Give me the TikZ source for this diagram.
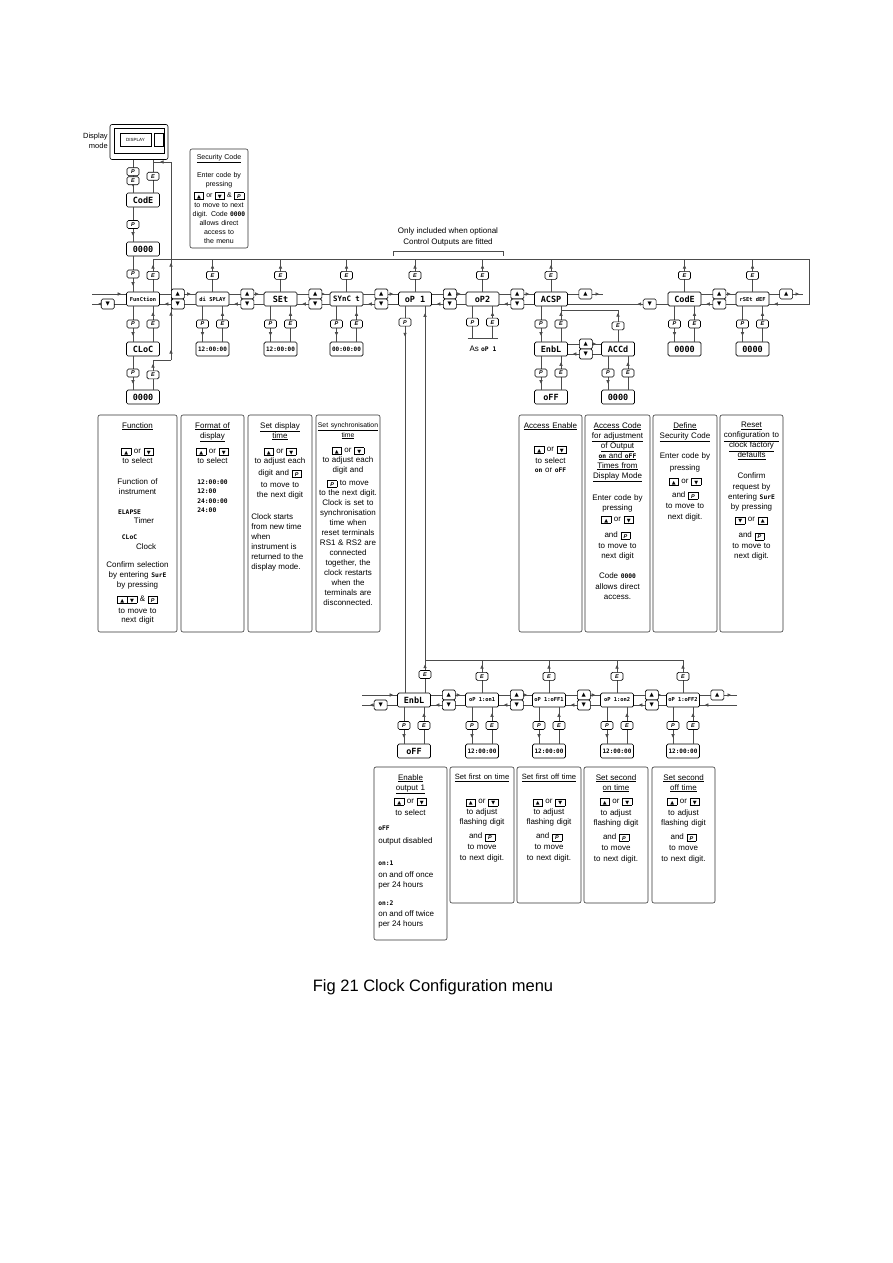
\documentclass[tikz,border=0pt]{standalone}
\usepackage{fontspec}
\setmainfont{Liberation Sans}
\newfontfamily\lcdfam{DejaVu Sans Mono}
\newfontfamily\symfam{DejaVu Sans}
\usetikzlibrary{arrows.meta, decorations.markings, calc}

\newcommand\lcdf{\lcdfam\bfseries\fontsize{6.3}{9.5}\selectfont}
\newcommand\ikey[1]{\raisebox{-1pt}{\setlength\fboxsep{0pt}\setlength\fboxrule{0.45pt}\fbox{\makebox[9pt]{\rule[-1pt]{0pt}{6.5pt}#1}}}}
\newcommand\ku{\ikey{\symfam\fontsize{5}{5}\selectfont ▲}}
\newcommand\kd{\ikey{\symfam\fontsize{5}{5}\selectfont ▼}}
\newcommand\kP{\ikey{\fontsize{5.5}{5.5}\selectfont\bfseries\itshape P}}

\begin{document}
\begin{tikzpicture}[x=1pt, y=-1pt, line width=0.6pt,
  lcd/.style={draw=black, line width=0.7pt, rounded corners=1.5pt, fill=white, minimum width=33pt, minimum height=14pt, inner sep=0pt, font=\lcdfam\bfseries\fontsize{8.5}{8.5}\selectfont},
  lcdm/.style={lcd, font=\lcdfam\bfseries\fontsize{7.4}{7.4}\selectfont},
  lcds/.style={lcd, font=\lcdfam\bfseries\fontsize{5.4}{5.4}\selectfont},
  lcdt/.style={lcd, font=\lcdfam\bfseries\fontsize{6}{6}\selectfont},
  key/.style={draw=black, rounded corners=1.5pt, fill=white, minimum width=12pt, minimum height=8pt, inner sep=0pt, font=\fontsize{5.5}{5.5}\selectfont\bfseries\itshape},
  upkey/.style={key, minimum width=13pt, minimum height=10pt, font=\symfam\fontsize{5.5}{5.5}\selectfont},
  wire/.style={draw=black!70},
  arr/.style={postaction={decorate, decoration={markings, mark=at position #1 with {\arrow{Triangle[length=3.5pt,width=3.2pt]}}}}},
  note/.style={draw=black!80, rounded corners=2pt},
  ntxt/.style={anchor=north, align=center, inner sep=0pt, font=\fontsize{8}{10}\selectfont}]

\fill[white] (0,0) rectangle (893,1263);
\useasboundingbox (0,0) rectangle (893,1263);

% display unit
\node[draw, rounded corners=2pt, minimum width=58pt, minimum height=35pt, inner sep=0pt] (disp) at (139,142) {};
\draw (114,128) rectangle (164,153);
\node[draw, minimum width=31pt, minimum height=13pt, inner sep=0pt, font=\fontsize{4.5}{4.5}\selectfont] (dlabel) at (135.5,139.5) {DISPLAY};
\node[draw, minimum width=9pt, minimum height=13pt, inner sep=0pt] (dsq) at (158.5,139.5) {};
\node[anchor=east, align=right, inner sep=0pt, font=\fontsize{7.5}{9.5}\selectfont] (dmode) at (108,141) {Display\\mode};

% function column
\coordinate (pc) at (133,0);
\coordinate (ec) at (153,0);
\node[lcd] (cod0) at (143,200) {CodE};
\node[lcd] (cod1) at (143,249) {0000};
\node[lcds] (fun) at (143,299) {FunCtion};
\node[lcd] (clk) at (143,349) {CLoC};
\node[lcd] (clk0) at (143,397) {0000};

% main row
\node[lcds] (dsp) at (212.5,299) {di SPLAY};
\node[lcd] (set) at (280.5,299) {SEt};
\node[lcdm] (syn) at (346.5,299) {SYnC t};
\node[lcd] (op1) at (415,299) {oP 1};
\node[lcd] (op2) at (482.5,299) {oP2};
\node[lcd] (acsp) at (551,299) {ACSP};
\node[lcd] (code) at (684.5,299) {CodE};
\node[lcds] (rset) at (752.5,299) {rSEt dEF};

% values below
\node[lcdt] (dsp-v) at (212.5,349) {12:00:00};
\node[lcdt] (set-v) at (280.5,349) {12:00:00};
\node[lcdt] (syn-v) at (346.5,349) {00:00:00};
\node[lcd] (en2) at (551,349) {EnbL};
\node[lcd] (off2) at (551,397) {oFF};
\node[lcd] (accd) at (618,349) {ACCd};
\node[lcd] (acc0) at (618,397) {0000};
\node[lcd] (code-v) at (684.5,349) {0000};
\node[lcd] (rset-v) at (752.5,349) {0000};

% output 1 row
\node[lcd] (en1) at (414,700) {EnbL};
\node[lcds] (on1) at (482,700) {oP 1:on1};
\node[lcds] (of1) at (549,700) {oP 1:oFF1};
\node[lcds] (on2) at (617,700) {oP 1:on2};
\node[lcds] (of2) at (683,700) {oP 1:oFF2};
\node[lcd] (en1-v) at (414,751) {oFF};
\node[lcdt] (on1-v) at (482,751) {12:00:00};
\node[lcdt] (of1-v) at (549,751) {12:00:00};
\node[lcdt] (on2-v) at (617,751) {12:00:00};
\node[lcdt] (of2-v) at (683,751) {12:00:00};

% entry from display mode
\draw[wire, arr=-6pt] (disp.south -| pc) -- node[key, yshift=4.5pt] (kp0) {P} node[key, yshift=-4.5pt] (ke0) {E} (cod0.north -| pc);
\draw[wire] (cod0.north -| ec) -- node[key] (ke1) {E} (disp.south -| ec);
\draw[wire, arr=-6pt] (cod0.south -| pc) -- node[key] (kp1) {P} (cod1.north -| pc);
\draw[wire, arr=-6pt] (cod1.south -| pc) -- node[key] (kp2) {P} (fun.north -| pc);

% return lines
\coordinate (tl0) at (153,259);
\coordinate (tl1) at (809,259);
\coordinate (rv0) at (171,360);
\coordinate (rv1) at (171,162);
\coordinate (rv2) at (153,162);
\coordinate (rv3) at (153,360);
\draw[wire, arr=-6pt] (fun.north -| ec) -- node[key] (ke2) {E} (tl0);
\draw[wire] (tl0) -- (tl1);
\draw[wire, arr=10pt, arr=48pt, arr=97pt] (rv0) -- (rv1);
\draw[wire, arr=-7pt] (rv1) -- (rv2);
\draw[wire, arr=-6pt] (clk.south -| pc) -- node[key] (kp4) {P} (clk0.north -| pc);
\draw[wire, arr=-4pt] (clk0.north -| ec) -- node[key] (ke4) {E} (rv3);
\draw[wire] (rv3) -- (rv0);

% E keys above the main row
\foreach \n in {dsp,set,syn,op1,op2,acsp,code,rset}
  \draw[wire, arr=-6pt] (\n.north) -- node[key] (\n-te) {E} (\n.north |- tl0);

% P and E below
\foreach \a/\b in {fun/clk, dsp/dsp-v, set/set-v, syn/syn-v, acsp/en2, en2/off2, accd/acc0, code/code-v, rset/rset-v, en1/en1-v, on1/on1-v, of1/of1-v, on2/on2-v, of2/of2-v} {
  \draw[wire, arr=-6pt] ([xshift=-10pt]\a.south) -- node[key] (\b-kp) {P} ([xshift=-10pt]\b.north);
  \draw[wire, arr=-6pt] ([xshift=10pt]\b.north) -- node[key] (\b-ke) {E} ([xshift=10pt]\a.south);
}

% up / down between neighbours
\foreach \a/\b in {fun/dsp, dsp/set, set/syn, syn/op1, op1/op2, op2/acsp, code/rset, en2/accd, en1/on1, on1/of1, of1/on2, on2/of2} {
  \draw[wire, arr=-5pt] ([yshift=5pt]\a.east) -- ([yshift=5pt]\b.west);
  \draw[wire, arr=-5pt] ([yshift=-5pt]\b.west) -- ([yshift=-5pt]\a.east);
  \node[upkey] (\a-uk) at ([xshift=18pt,yshift=5pt]\a.east) {▲};
  \node[upkey] (\a-dk) at ([xshift=18pt,yshift=-5pt]\a.east) {▼};
}

% ends of the main row
\coordinate (lw1) at (92,294);
\coordinate (lw2) at (92,304);
\coordinate (ar1) at (603,294);
\coordinate (rr1) at (803,294);
\coordinate (rr2) at (809,304);
\draw[wire, arr=-5pt] (lw1) -- (fun.west |- lw1);
\draw[wire, arr=-6pt] (fun.west |- lw2) -- node[upkey, pos=0.54] (fun-lk) {▼} (lw2);
\draw[wire, arr=-4pt] ([yshift=5pt]acsp.east) -- node[upkey] (acsp-rk) {▲} (ar1);
\draw[wire, arr=30pt] ([yshift=-5pt]code.west) -- node[upkey, pos=0.18] (code-lk) {▼} ([yshift=-5pt]acsp.east);
\draw[wire, arr=-4pt] ([yshift=5pt]rset.east) -- node[upkey] (rset-rk) {▲} (rr1);
\draw[wire, arr=-5pt] (tl1) -- (rr2) -- (rset.east |- rr2);

% access code E
\coordinate (acj) at (618,310);
\coordinate (acj2) at (561,310);
\draw[wire, arr=-3pt] (accd.north) -- node[key] (accd-te) {E} (acj);
\draw[wire] (acj) -- (acj2);

% oP2 as oP1
\coordinate (p2p) at (472.5,338);
\coordinate (p2e) at (492.5,338);
\draw[wire] (op2.south -| p2p) -- node[key] (op2-kp) {P} (p2p);
\draw[wire, arr=-6pt] (p2e) -- node[key] (op2-ke) {E} (op2.south -| p2e);
\draw[wire] ([xshift=-5pt]p2p) -- ([xshift=5pt]p2e);
\node[inner sep=0pt, font=\fontsize{8}{10}\selectfont] (aslab) at (483,349) {As {\lcdf oP 1}};

% optional outputs
\draw[wire] (393,256) -- (393,251) -- (503,251) -- (503,256);
\node[align=center, inner sep=0pt, font=\fontsize{8}{10.5}\selectfont] (optlab) at (448,237) {Only included when optional\\Control Outputs are fitted};

% oP1 down to output row
\coordinate (p1c) at (405,0);
\coordinate (e1c) at (425,0);
\coordinate (bt0) at (425,660);
\coordinate (bt1) at (683,660);
\draw[wire, arr=30pt] (op1.south -| p1c) -- node[key, pos=0.041] (op1-kp) {P} (en1.north -| p1c);
\draw[wire, arr=28pt, arr=-7pt] (en1.north -| e1c) -- node[key, pos=0.047] (en1-te) {E} (op1.south -| e1c);
\draw[wire] (bt0) -- (bt1);
\foreach \n in {on1,of1,on2,of2}
  \draw[wire, arr=-5pt] (\n.north) -- node[key] (\n-te) {E} (\n.north |- bt0);
\coordinate (bl1) at (362,695);
\coordinate (bl2) at (362,705);
\coordinate (br1) at (737,695);
\coordinate (br2) at (737,705);
\draw[wire, arr=-4pt] (bl1) -- (en1.west |- bl1);
\draw[wire, arr=-8pt] (en1.west |- bl2) -- node[upkey, pos=0.47] (en1-lk) {▼} (bl2);
\draw[wire, arr=-6pt] (of2.east |- br1) -- node[upkey, pos=0.47] (of2-rk) {▲} (br1);
\draw[wire, arr=-5pt] (br2) -- (of2.east |- br2);

% notes
\draw[note] (190,149) rectangle (248,248);
\foreach \l/\r in {98/177, 181/244, 248/312, 316/380, 519/582, 585/650, 653/717, 720/783}
  \draw[note] (\l,415) rectangle (\r,632);
\draw[note] (374,767) rectangle (447,940);
\foreach \l/\r in {450/514, 517/581, 584/648, 652/715}
  \draw[note] (\l,767) rectangle (\r,903);

\node[ntxt, text width=56pt, font=\fontsize{7}{9}\selectfont] (tsec) at (219,154) {\underline{Security Code}\\[9pt]
Enter code by\\ pressing\\[2pt] \ku{} or \kd{} \& \kP\\[1pt] to move to next\\ digit. Code {\lcdf 0000}\\ allows direct\\ access to\\ the menu};

\node[ntxt, text width=76pt] (tfun) at (137.5,422) {\underline{Function}\\[15pt]
\ku{} or \kd\\ to select\\[11pt] Function of\\ instrument\\[10pt]
\hspace*{-16pt}{\lcdf ELAPSE}\\[-1pt] \hspace*{13pt}Timer\\[6pt]
\hspace*{-16pt}{\lcdf CLoC}\\ \hspace*{17pt}Clock\\[8pt]
Confirm selection\\ by entering {\lcdf SurE}\\ by pressing\\[4pt] \ku\kd{} \& \kP\\[2pt] to move to\\[-1pt] next digit};

\node[ntxt, text width=60pt] (tfmt) at (212.5,422) {\underline{Format of}\\ \underline{display}\\[5pt]
\ku{} or \kd\\ to select\\[11pt]
{\lcdf\begin{tabular}[t]{@{}l@{}}12:00:00\\12:00\\24:00:00\\24:00\end{tabular}}};

\node[ntxt, text width=62pt] (tset) at (280,422) {\underline{Set display}\\ \underline{time}\\[5pt]
\ku{} or \kd\\ to adjust each\\[2pt] digit and \kP\\[2pt] to move to\\ the next digit};
\node[ntxt, anchor=north west, align=left] (tset2) at (251,513) {Clock starts\\ from new time\\ when\\ instrument is\\ returned to the\\ display mode.};

\node[ntxt, text width=62pt] (tsyn) at (348,422) {{\fontsize{6.8}{10}\selectfont\underline{Set synchronisation}}\\ {\fontsize{6.8}{10}\selectfont\underline{time}}\\[5pt]
\ku{} or \kd\\ to adjust each\\ digit and\\[3pt] \kP{} to move\\ to the next digit.\\ Clock is set to\\ synchronisation\\ time when\\ reset terminals\\ RS1 \& RS2 are\\ connected\\ together, the\\ clock restarts\\ when the\\ terminals are\\ disconnected.};

\node[ntxt, text width=60pt] (tacen) at (550.5,422) {\underline{Access Enable}\\[13pt]
\ku{} or \kd\\[2pt] to select\\[-1pt] {\lcdf on} or {\lcdf oFF}};

\node[ntxt, text width=62pt] (taccd) at (617.5,422) {\underline{Access Code}\\ \underline{for adjustment}\\ \underline{of Output}\\ \underline{{\lcdf on} and {\lcdf oFF}}\\ \underline{Times from}\\ \underline{Display Mode}\\[12pt]
Enter code by\\ pressing\\[1pt] \ku{} or \kd\\[6pt] and \kP\\[1pt] to move to\\ next digit\\[10pt] Code {\lcdf 0000}\\[1pt] allows direct\\ access.};

\node[ntxt, text width=62pt] (tdef) at (685,422) {\underline{Define}\\ \underline{Security Code}\\[10pt]
Enter code by\\[2pt] pressing\\[3pt] \ku{} or \kd\\[4pt] and \kP\\[1pt] to move to\\[1pt] next digit.};

\node[ntxt, text width=62pt] (trst) at (751.5,422) {\underline{Reset}\\ \underline{configuration to}\\ \underline{clock factory}\\ \underline{defaults}\\[11pt]
Confirm\\[1pt] request by\\ entering {\lcdf SurE}\\ by pressing\\[2pt] \kd{} or \ku\\[6pt] and \kP\\[1pt] to move to\\ next digit.};

\node[ntxt, text width=70pt] (ten1) at (410.5,774) {\underline{Enable}\\ \underline{output 1}\\[3pt]
\ku{} or \kd\\[2pt] to select};
\node[ntxt, anchor=north west, align=left] (ten1b) at (378,826) {{\lcdf oFF}\\[3pt] output disabled\\[12pt] {\lcdf on:1}\\[2pt] on and off once\\ per 24 hours\\[8pt] {\lcdf on:2}\\[1pt] on and off twice\\ per 24 hours};

\node[ntxt, text width=62pt] (ton1) at (482,774) {{\fontsize{7.6}{10}\selectfont\underline{Set first on time}}\\[14pt]
\ku{} or \kd\\[1pt] to adjust\\ flashing digit\\[4pt] and \kP\\[1pt] to move\\[1pt] to next digit.};
\node[ntxt, text width=62pt] (tof1) at (549,774) {{\fontsize{7.6}{10}\selectfont\underline{Set first off time}}\\[14pt]
\ku{} or \kd\\[1pt] to adjust\\ flashing digit\\[4pt] and \kP\\[1pt] to move\\[1pt] to next digit.};
\node[ntxt, text width=62pt] (ton2) at (616,774) {\underline{Set second}\\ \underline{on time}\\[3pt]
\ku{} or \kd\\[2pt] to adjust\\ flashing digit\\[4pt] and \kP\\[1pt] to move\\[1pt] to next digit.};
\node[ntxt, text width=62pt] (tof2) at (683.5,774) {\underline{Set second}\\ \underline{off time}\\[3pt]
\ku{} or \kd\\[2pt] to adjust\\ flashing digit\\[4pt] and \kP\\[1pt] to move\\[1pt] to next digit.};

% caption
\node[inner sep=0pt, font=\fontsize{16.5}{18}\selectfont] (cap) at (433,987) {Fig 21 Clock Configuration menu};
\end{tikzpicture}
\end{document}
